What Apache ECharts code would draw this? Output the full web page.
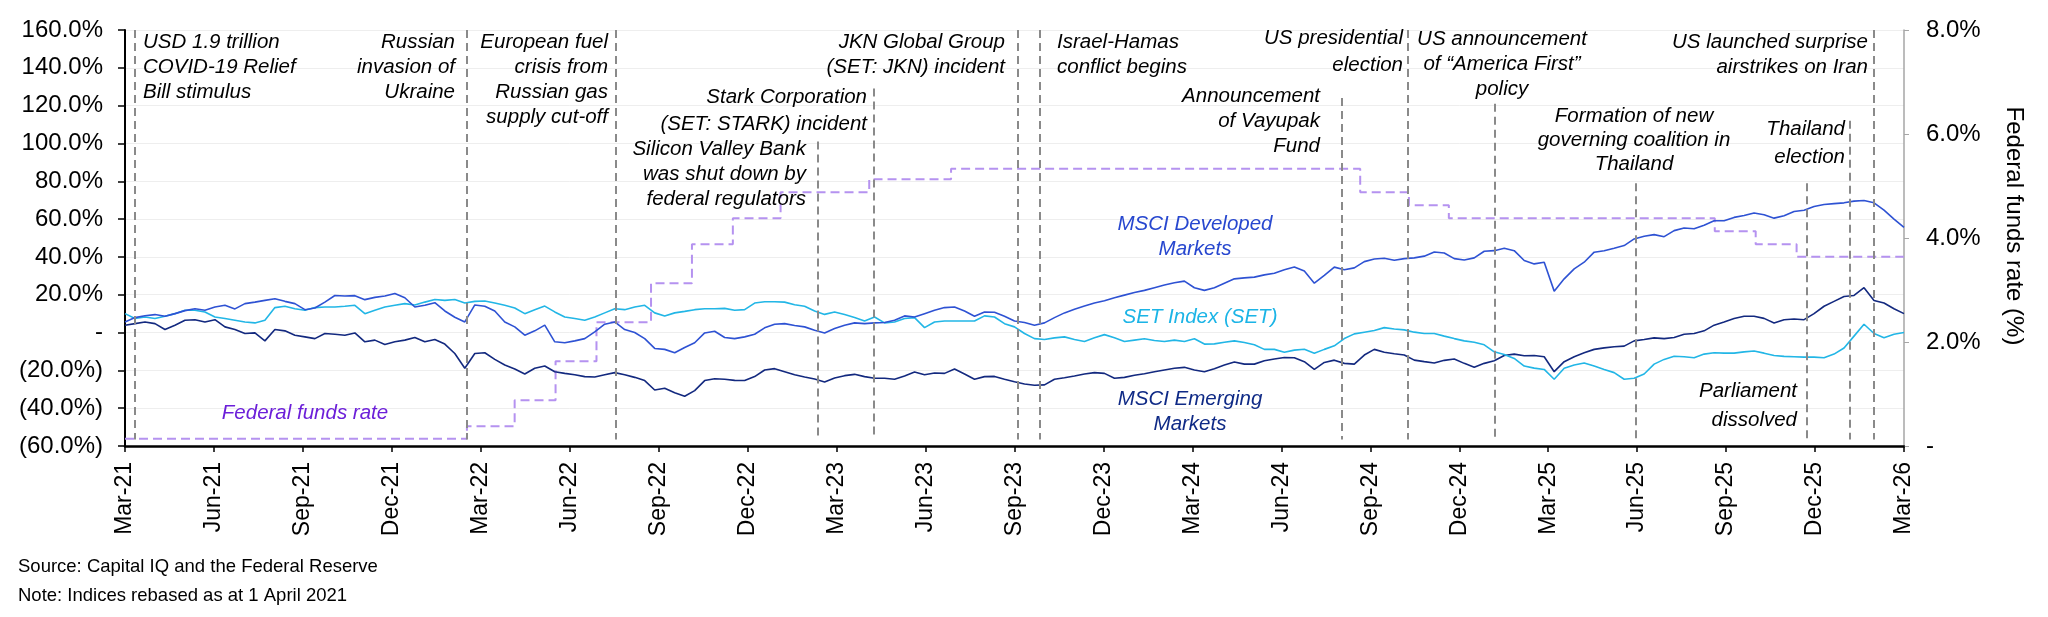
<!DOCTYPE html>
<html>
<head>
<meta charset="utf-8">
<script src="https://cdn.jsdelivr.net/npm/echarts@6.0.0/dist/echarts.min.js"></script>
<style>
  html, body { margin: 0; padding: 0; background: #fff; }
  #main { width: 2048px; height: 617px; }
</style>
</head>
<body>
<div id="main"></div>
<script>
const FONT = 'Arial, "Liberation Sans", sans-serif'
const DAY0 = Date.UTC(2021, 2, 31)   // axis start, "Mar-21"
const SPAN = 1826.25                 // days to "Mar-26"
const MONTHS = ['Jan', 'Feb', 'Mar', 'Apr', 'May', 'Jun', 'Jul', 'Aug', 'Sep', 'Oct', 'Nov', 'Dec']

// index values (%), sampled evenly from start to end of the axis
const msciDeveloped = [
  5.6, 7.9, 8.9, 9.5, 8.6, 10.0, 11.6, 12.6, 11.8, 13.5, 14.4, 12.5, 15.3, 16.1, 17.0, 17.9, 16.5, 15.3, 12.1, 13.0,
  16.1, 19.6, 19.3, 19.5, 17.4, 18.6, 19.3, 20.7, 18.4, 13.5, 14.4, 15.8, 11.4, 8.1, 5.6, 14.6, 13.9, 11.4, 5.6, 3.0,
  -1.4, 0.9, 3.9, -4.9,
  -5.4, -4.4, -3.2, 0.4, 4.4, 5.6, 1.6, 0.0, -3.2, -8.4, -8.9, -10.7, -7.9, -5.4, -0.2, 0.7, -2.6, -3.2, -2.3, -0.9,
  2.5, 4.4, 4.7, 3.7, 3.0, 1.2, -0.2, 2.1, 3.9, 5.1, 4.7, 5.1, 5.3, 6.5, 8.8, 8.2, 10.0, 11.8, 13.2, 13.5,
  11.4, 8.6, 10.9, 10.7, 8.6,
  6.1, 5.3, 3.9, 5.1, 7.9, 10.4, 12.3, 14.0, 15.6, 16.8, 18.4, 19.8, 21.2, 22.3, 23.7, 25.1, 26.3, 27.2, 23.7, 22.3,
  23.7, 26.1, 28.4, 28.9, 29.3, 30.5, 31.4, 33.2, 34.7, 32.5, 26.1, 30.2, 34.6, 33.2, 34.2, 37.5, 38.9, 39.3, 38.2, 39.1,
  39.5, 40.4, 42.6, 42.1, 39.1,
  38.4, 39.5, 43.0, 43.3, 44.6, 43.3, 38.1, 36.3, 37.2, 21.9, 28.4, 33.7, 37.2, 42.5, 43.3, 44.6, 46.0, 49.5, 50.9, 51.8,
  50.7, 53.9, 55.3, 54.9, 56.8, 59.1, 59.1, 60.9, 61.9, 63.2, 62.3, 60.5, 61.8, 64.0, 64.7, 66.7, 67.7, 68.2, 68.6, 69.5,
  69.8, 68.6, 64.7, 60.0, 55.6
]
const setIndex = [
  10.0, 7.4, 8.2, 7.4, 8.6, 10.0, 11.8, 11.8, 10.9, 8.2, 7.4, 6.5, 5.6, 5.1, 6.5, 13.2, 13.9, 12.6, 11.8, 13.2,
  13.5, 13.5, 13.9, 14.4, 10.0, 11.8, 13.5, 14.4, 15.3, 14.6, 16.1, 17.5, 17.0, 17.5, 15.6, 16.5, 16.7, 15.6, 14.4, 13.0,
  10.0, 12.1, 14.0, 10.9,
  8.2, 7.4, 6.5, 8.2, 10.4, 12.6, 12.1, 13.5, 14.4, 10.4, 8.8, 10.4, 11.2, 12.1, 12.6, 12.6, 12.8, 11.8, 12.1, 15.6,
  16.3, 16.3, 16.1, 14.7, 13.9, 11.4, 9.6, 10.9, 9.5, 7.9, 6.1, 8.2, 5.1, 5.6, 7.4, 7.9, 2.6, 5.6, 6.1, 6.1,
  6.1, 6.1, 8.8, 8.2, 4.7,
  3.0, -0.5, -3.2, -3.7, -2.8, -2.3, -3.7, -4.7, -2.8, -1.1, -2.8, -4.7, -4.0, -3.3, -4.2, -4.7, -4.0, -4.7, -3.3, -6.1,
  -6.0, -5.1, -4.4, -5.3, -6.5, -8.9, -8.9, -10.4, -9.3, -8.8, -10.9, -8.9, -7.0, -3.2, -0.7, 0.2, 1.1, 2.6, 1.9, 1.4,
  0.2, -0.5, -0.5, -1.9, -3.2,
  -4.4, -5.1, -6.5, -10.2, -11.6, -13.7, -17.7, -18.8, -19.5, -24.7, -18.9, -17.2, -16.1, -17.7, -19.5, -21.2, -24.7, -24.2, -21.9, -16.7,
  -14.2, -12.5, -12.8, -13.3, -11.4, -10.7, -10.9, -10.9, -10.2, -9.8, -10.9, -12.1, -12.6, -12.8, -13.0, -13.0, -13.3, -11.4, -8.2, -1.9,
  4.4, -0.5, -2.8, -0.9, 0.0
]
const msciEmerging = [
  3.9, 4.7, 5.6, 4.7, 1.6, 3.9, 6.5, 6.8, 5.6, 6.8, 3.0, 1.6, -0.5, -0.2, -4.4, 1.6, 0.9, -1.4, -2.3, -3.2,
  -0.5, -0.9, -1.4, -0.2, -4.9, -4.0, -6.3, -4.9, -4.0, -2.6, -4.9, -3.7, -6.1, -11.1, -18.9, -11.1, -10.7, -14.2, -17.2, -19.3,
  -21.9, -18.9, -17.7, -20.7,
  -21.6, -22.3, -23.3, -23.5, -22.3, -21.2, -22.3, -23.7, -25.4, -30.4, -29.5, -31.8, -33.7, -30.7, -25.4, -24.4, -24.7, -25.3, -25.4, -23.3,
  -19.8, -19.1, -20.7, -22.3, -23.5, -24.6, -26.1, -24.0, -22.8, -22.1, -23.3, -24.2, -24.2, -24.7, -23.0, -20.9, -22.3, -21.4, -21.6, -19.3,
  -21.9, -24.7, -23.3, -23.2, -24.7,
  -26.0, -27.2, -27.9, -27.7, -24.7, -23.9, -23.0, -21.9, -21.2, -21.6, -24.2, -23.7, -22.6, -21.8, -20.7, -19.8, -18.9, -18.4, -19.8, -20.7,
  -19.1, -17.2, -15.6, -16.7, -16.7, -14.9, -14.0, -13.2, -13.3, -15.4, -19.5, -15.8, -14.6, -16.3, -16.7, -11.9, -8.9, -10.4, -11.2, -11.9,
  -14.6, -15.4, -16.1, -14.7, -14.0,
  -16.3, -18.4, -16.3, -14.9, -12.1, -11.4, -12.3, -12.1, -12.8, -20.7, -15.4, -12.8, -10.7, -8.9, -8.1, -7.5, -7.2, -4.4, -3.7, -2.8,
  -3.2, -2.6, -0.9, -0.5, 0.9, 3.9, 5.6, 7.4, 8.6, 8.6, 7.5, 5.1, 6.8, 7.2, 6.8, 10.0, 13.9, 16.5, 19.1, 19.6,
  23.7, 17.0, 15.6, 12.6, 10.0
]

// federal funds rate (%), value from each date on
const fedDates = ['2021-03-31', '2022-03-17', '2022-05-05', '2022-06-16', '2022-07-28', '2022-09-22', '2022-11-03',
  '2022-12-15', '2023-02-02', '2023-05-04', '2023-07-27', '2024-09-19', '2024-11-08', '2024-12-19', '2025-09-18',
  '2025-10-30', '2025-12-11', '2026-03-31']
const fedRates = [0.14, 0.38, 0.88, 1.63, 2.38, 3.13, 3.88, 4.38, 4.88, 5.13, 5.33, 4.88, 4.63, 4.38, 4.13, 3.88, 3.64, 3.64]

// event markers: date and top of the dashed line (left axis %)
const eventDates = ['2021-04-10', '2022-03-17', '2022-08-17', '2023-03-12', '2023-05-09', '2023-10-03', '2023-10-26',
  '2024-08-31', '2024-11-07', '2025-02-04', '2025-06-29', '2025-12-21', '2026-02-04', '2026-02-28']
const eventTops = [160, 160, 160, 101, 129, 160, 160, 124, 160, 121, 79, 79, 112, 160]

const toDay = s => (Date.parse(s + 'T00:00:00Z') - DAY0) / 86400000
const step = SPAN / (msciDeveloped.length - 1)
const asSeries = arr => arr.map((v, i) => [i * step, v])

const annotations = [
  {text: 'USD 1.9 trillion\nCOVID-19 Relief\nBill stimulus', x: 143, y: 30, align: 'left'},
  {text: 'Russian\ninvasion of\nUkraine', x: 455, y: 30, align: 'right'},
  {text: 'European fuel\ncrisis from\nRussian gas\nsupply cut-off', x: 608, y: 30, align: 'right'},
  {text: 'Stark Corporation\n(SET: STARK) incident', x: 867, y: 84, align: 'right', lh: 27},
  {text: 'Silicon Valley Bank\nwas shut down by\nfederal regulators', x: 806, y: 137, align: 'right'},
  {text: 'JKN Global Group\n(SET: JKN) incident', x: 1005, y: 30, align: 'right'},
  {text: 'Israel-Hamas\nconflict begins', x: 1057, y: 30, align: 'left'},
  {text: 'Announcement\nof Vayupak\nFund', x: 1320, y: 84, align: 'right'},
  {text: 'US presidential\nelection', x: 1403, y: 25, align: 'right', lh: 27},
  {text: 'US announcement\nof \u201cAmerica First\u201d\npolicy', x: 1502, y: 27, align: 'center'},
  {text: 'Formation of new\ngoverning coalition in\nThailand', x: 1634, y: 104, align: 'center', lh: 24},
  {text: 'Thailand\nelection', x: 1845, y: 115, align: 'right', lh: 28},
  {text: 'US launched surprise\nairstrikes on Iran', x: 1868, y: 30, align: 'right'},
  {text: 'Parliament\ndissolved', x: 1797, y: 377, align: 'right', lh: 29},
  {text: 'MSCI Developed\nMarkets', x: 1195, y: 212, align: 'center', color: '#2747cf'},
  {text: 'SET Index (SET)', x: 1200, y: 305, align: 'center', color: '#1bb4e6'},
  {text: 'MSCI Emerging\nMarkets', x: 1190, y: 387, align: 'center', color: '#0f2a86'},
  {text: 'Federal funds rate', x: 305, y: 401, align: 'center', color: '#6c1fd9'}
]

const chart = echarts.init(document.getElementById('main'))

const pct = v => v === 0 ? '-' : v < 0 ? '(' + (-v).toFixed(1) + '%)' : v.toFixed(1) + '%'

chart.setOption({
  animation: false,
  backgroundColor: '#fff',
  textStyle: {fontFamily: FONT},
  grid: {left: 125, right: 144, top: 30, bottom: 171, containLabel: false, outerBoundsMode: 'none'},
  xAxis: {
    type: 'value',
    min: 0,
    max: SPAN,
    interval: SPAN / 20,
    axisLine: {onZero: false, lineStyle: {color: '#000', width: 2.5}},
    axisTick: {show: true, length: 6, lineStyle: {color: '#000', width: 1.5}},
    splitLine: {show: false},
    axisLabel: {
      rotate: 90,
      margin: 16,
      fontSize: 23,
      color: '#000',
      fontFamily: FONT,
      formatter: v => {
        const dt = new Date(DAY0 + v * 86400000)
        return MONTHS[dt.getUTCMonth()] + '-' + String(dt.getUTCFullYear()).slice(2)
      }
    }
  },
  yAxis: [
    {
      type: 'value',
      min: -60,
      max: 160,
      interval: 20,
      axisLine: {show: true, lineStyle: {color: '#000', width: 2}},
      axisTick: {show: true, length: 7, lineStyle: {color: '#000', width: 1.5}},
      splitLine: {show: true, lineStyle: {color: '#eeeeee', width: 1}},
      axisLabel: {fontSize: 24, color: '#000', margin: 22, fontFamily: FONT, formatter: pct}
    },
    {
      type: 'value',
      min: 0,
      max: 8,
      interval: 2,
      position: 'right',
      axisLine: {show: true, lineStyle: {color: '#a6a6a6', width: 1.5}},
      axisTick: {show: true, length: 5, lineStyle: {color: '#a6a6a6'}},
      splitLine: {show: false},
      axisLabel: {fontSize: 24, color: '#000', margin: 22, fontFamily: FONT, formatter: pct}
    }
  ],
  series: [
    {
      name: 'Federal funds rate',
      type: 'line',
      yAxisIndex: 1,
      step: 'end',
      symbol: 'none',
      data: fedDates.map((d, i) => [toDay(d), fedRates[i]]),
      lineStyle: {color: '#b592f0', width: 2, type: [9, 5]},
      z: 2
    },
    {
      name: 'MSCI Emerging Markets',
      type: 'line',
      symbol: 'none',
      data: asSeries(msciEmerging),
      lineStyle: {color: '#13297f', width: 1.6},
      z: 3
    },
    {
      name: 'SET Index (SET)',
      type: 'line',
      symbol: 'none',
      data: asSeries(setIndex),
      lineStyle: {color: '#22b6e6', width: 1.6},
      z: 3
    },
    {
      name: 'MSCI Developed Markets',
      type: 'line',
      symbol: 'none',
      data: asSeries(msciDeveloped),
      lineStyle: {color: '#2e52d3', width: 1.6},
      z: 4,
      markLine: {
        silent: true,
        symbol: 'none',
        label: {show: false},
        lineStyle: {color: '#8a8a8a', width: 2, type: [8, 5]},
        data: eventDates.map((d, i) => [
          {coord: [toDay(d), eventTops[i]]},
          {coord: [toDay(d), -56.5]}
        ])
      }
    }
  ],
  graphic: annotations.map(a => ({
    type: 'text',
    x: a.x,
    y: a.y,
    z: 100,
    silent: true,
    style: {
      text: a.text,
      fill: a.color || '#000',
      fontSize: 20.5,
      fontStyle: 'italic',
      fontFamily: FONT,
      lineHeight: a.lh || 25,
      align: a.align,
      verticalAlign: 'top'
    }
  })).concat([
    // right axis title
    {type: 'text', x: 2014, y: 226, rotation: -Math.PI / 2, z: 100, silent: true,
      style: {text: 'Federal funds rate (%)', fill: '#000', fontSize: 24, fontFamily: FONT,
        align: 'center', verticalAlign: 'middle'}},
    {type: 'text', x: 18, y: 557, z: 100, silent: true,
      style: {text: 'Source: Capital IQ and the Federal Reserve', fill: '#000', fontSize: 18.5, fontFamily: FONT}},
    {type: 'text', x: 18, y: 586, z: 100, silent: true,
      style: {text: 'Note: Indices rebased as at 1 April 2021', fill: '#000', fontSize: 18.5, fontFamily: FONT}}
  ])
})
</script>
</body>
</html>
